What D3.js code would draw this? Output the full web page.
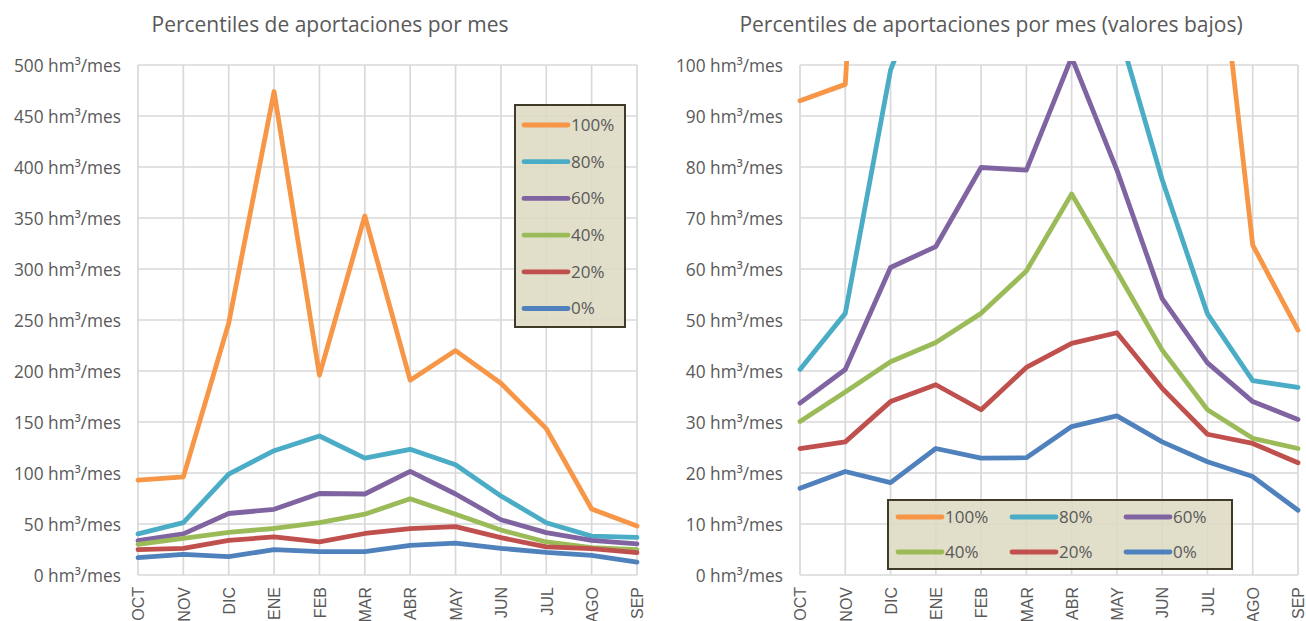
<!DOCTYPE html>
<html>
<head>
<meta charset="utf-8">
<script src="https://cdn.jsdelivr.net/npm/d3@7"></script>
<style>
  html, body { margin: 0; padding: 0; background: #ffffff; }
  svg { display: block; }
</style>
</head>
<body>
<svg id="chart" width="1306" height="621"></svg>
<script>
// ---------- data ----------
const months = ["OCT", "NOV", "DIC", "ENE", "FEB", "MAR", "ABR", "MAY", "JUN", "JUL", "AGO", "SEP"];
const seriesNames = ["100%", "80%", "60%", "40%", "20%", "0%"];
const p100 = [93, 96.2, 247, 474, 196, 352, 191, 220, 188, 143.5, 64.7, 48];
const p80  = [40.3, 51.3, 99, 121.9, 136.3, 114.5, 123.2, 108, 77.5, 51.2, 38.1, 36.8];
const p60  = [33.7, 40.3, 60.3, 64.4, 79.9, 79.4, 101.5, 79.4, 54.2, 41.6, 34.0, 30.5];
const p40  = [30.1, 35.9, 41.8, 45.6, 51.3, 59.6, 74.7, 59.5, 44.1, 32.4, 26.8, 24.8];
const p20  = [24.8, 26.1, 34.0, 37.3, 32.4, 40.7, 45.4, 47.5, 36.6, 27.6, 25.8, 22.0];
const p0   = [17.0, 20.3, 18.1, 24.8, 22.9, 23.0, 29.1, 31.2, 26.1, 22.2, 19.3, 12.7];
const leftTicks = [0, 50, 100, 150, 200, 250, 300, 350, 400, 450, 500];
const rightTicks = [0, 10, 20, 30, 40, 50, 60, 70, 80, 90, 100];
const titles = ["Percentiles de aportaciones por mes", "Percentiles de aportaciones por mes (valores bajos)"];
const unit = " hm³/mes";

const seriesValues = [p100, p80, p60, p40, p20, p0];
const colors = ["#F79646", "#4BACC6", "#8064A2", "#9BBB59", "#C0504D", "#4F81BD"];

const svg = d3.select("#chart");
const labelFont = "'Open Sans', 'Noto Sans', sans-serif";
const axisFont = "'Liberation Sans', Arial, sans-serif";
const textColor = "#595959";
const gridColor = "#d9d9d9";

function drawChart(cfg) {
  const g = svg.append("g");
  const x = d3.scalePoint().domain(months).range([cfg.x0, cfg.x1]);
  const y = d3.scaleLinear().domain([0, cfg.max]).range([575, 65]);

  // title
  g.append("text")
    .attr("x", cfg.titleX).attr("y", 32)
    .attr("text-anchor", "middle")
    .attr("font-family", labelFont).attr("font-size", 21)
    .attr("fill", textColor)
    .text(cfg.title);

  // horizontal gridlines
  g.append("g").selectAll("line").data(cfg.ticks).join("line")
    .attr("x1", cfg.x0).attr("x2", cfg.x1)
    .attr("y1", d => y(d)).attr("y2", d => y(d))
    .attr("stroke", gridColor).attr("stroke-width", 1.7);
  // vertical gridlines
  g.append("g").selectAll("line").data(months).join("line")
    .attr("x1", d => x(d)).attr("x2", d => x(d))
    .attr("y1", y(cfg.max)).attr("y2", y(0))
    .attr("stroke", gridColor).attr("stroke-width", 1.7);

  // y labels
  const yAxis = d3.axisLeft(y).tickValues(cfg.ticks).tickSize(0).tickPadding(0)
    .tickFormat(d => d + unit);
  const ya = g.append("g").attr("transform", `translate(${cfg.x0 - 17},0)`).call(yAxis);
  ya.select(".domain").remove();
  ya.selectAll("text").attr("font-family", labelFont).attr("font-size", 17.3)
    .attr("fill", textColor).attr("dy", "0.35em");

  // x labels
  const xAxis = d3.axisBottom(x).tickSize(0).tickPadding(0);
  const xa = g.append("g").attr("transform", `translate(0,${575})`).call(xAxis);
  xa.select(".domain").remove();
  xa.selectAll("text")
    .attr("font-family", axisFont).attr("font-size", 16).attr("fill", textColor)
    .attr("text-anchor", "end")
    .attr("transform", "rotate(-90)")
    .attr("x", -12).attr("y", 0).attr("dy", "0.36em");

  // clip
  const clipId = "clip" + cfg.id;
  svg.append("clipPath").attr("id", clipId).append("rect")
    .attr("x", cfg.x0 - 10).attr("y", 61).attr("width", cfg.x1 - cfg.x0 + 20).attr("height", 530);

  const line = d3.line().x((d, i) => x(months[i])).y(d => y(d));
  const lines = g.append("g").attr("clip-path", `url(#${clipId})`);
  seriesValues.forEach((vals, i) => {
    lines.append("path").datum(vals)
      .attr("d", line)
      .attr("fill", "none")
      .attr("stroke", colors[i])
      .attr("stroke-width", 4.8)
      .attr("stroke-linejoin", "round")
      .attr("stroke-linecap", "round");
  });

  // legend
  const lg = g.append("g");
  lg.append("rect")
    .attr("x", cfg.legend.x).attr("y", cfg.legend.y)
    .attr("width", cfg.legend.w).attr("height", cfg.legend.h)
    .attr("fill", "#ddd9c3").attr("fill-opacity", 0.88)
    .attr("stroke", "#3f3b28").attr("stroke-width", 2);
  seriesNames.forEach((name, i) => {
    const p = cfg.legend.pos(i);
    lg.append("line")
      .attr("x1", p.x).attr("x2", p.x + 44)
      .attr("y1", p.y).attr("y2", p.y)
      .attr("stroke", colors[i]).attr("stroke-width", 4.8)
      .attr("stroke-linecap", "round");
    lg.append("text")
      .attr("x", p.x + 47).attr("y", p.y).attr("dy", "0.35em")
      .attr("font-family", labelFont).attr("font-size", 17)
      .attr("fill", textColor)
      .text(name);
  });
}

drawChart({
  id: "L", x0: 138, x1: 637, max: 500, ticks: leftTicks, title: titles[0], titleX: 330,
  legend: { x: 515, y: 105, w: 110, h: 222, pos: i => ({ x: 524, y: 125 + i * 36.7 }) }
});
drawChart({
  id: "R", x0: 800, x1: 1298, max: 100, ticks: rightTicks, title: titles[1], titleX: 991,
  legend: { x: 888, y: 500, w: 344, h: 69, pos: i => ({ x: [898, 1012, 1126][i % 3], y: i < 3 ? 517 : 552 }) }
});
</script>
</body>
</html>
